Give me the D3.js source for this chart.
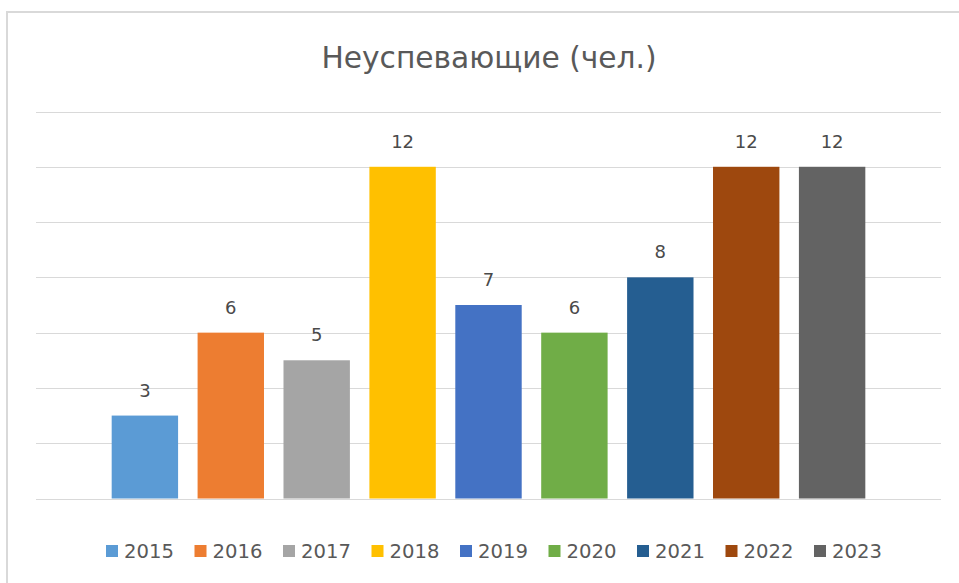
<html>
  <head>
    <style>
      body { margin: 0; background: #fff; }
      text { font-family: "DejaVu Sans", Verdana, sans-serif; }
    </style>
  </head>
  <body>
    <script src="https://d3js.org/d3.v7.min.js"></script>
    <script>
    var width = 959, height = 583;

    // data
    var years = ["2015", "2016", "2017", "2018", "2019", "2020", "2021", "2022", "2023"];
    var values = [3, 6, 5, 12, 7, 6, 8, 12, 12];
    var colors = ["#5B9BD5", "#ED7D31", "#A5A5A5", "#FFC000", "#4472C4", "#70AD47", "#255E91", "#9E480E", "#636363"];
    var yTicks = [0, 2, 4, 6, 8, 10, 12, 14];
    var title = "Неуспевающие (чел.)";

    var plot = {left: 36, right: 941, top: 111.5, bottom: 498.5};

    var svg = d3.select("body")
        .append("svg")
        .attr("width", width)
        .attr("height", height);

    // chart frame (runs off the right and bottom edges)
    svg.append("rect")
        .attr("x", 7).attr("y", 12)
        .attr("width", 980).attr("height", 600)
        .attr("fill", "#fff")
        .attr("stroke", "#d9d9d9")
        .attr("stroke-width", 2);

    var x = d3.scaleBand()
        .domain(years)
        .range([plot.left, plot.right])
        .paddingInner(0.227)
        .paddingOuter(0.881);

    var y = d3.scaleLinear()
        .domain([0, 14])
        .range([plot.bottom, plot.top]);

    var color = d3.scaleOrdinal().domain(years).range(colors);

    // gridlines
    svg.append("g")
      .selectAll("line")
      .data(yTicks)
      .enter().append("line")
        .attr("x1", plot.left).attr("x2", plot.right)
        .attr("y1", function(d) { return Math.round(y(d)) + 0.5; })
        .attr("y2", function(d) { return Math.round(y(d)) + 0.5; })
        .attr("stroke", "#d9d9d9")
        .attr("stroke-width", 1);

    var data = years.map(function(yr, i) { return {year: yr, value: values[i]}; });

    svg.append("g")
      .selectAll("rect")
      .data(data)
      .enter().append("rect")
        .attr("x", function(d) { return x(d.year); })
        .attr("y", function(d) { return y(d.value); })
        .attr("width", x.bandwidth())
        .attr("height", function(d) { return y(0) - y(d.value); })
        .attr("fill", function(d) { return color(d.year); });

    // data labels
    svg.append("g")
      .selectAll("text")
      .data(data)
      .enter().append("text")
        .attr("x", function(d) { return x(d.year) + x.bandwidth() / 2; })
        .attr("y", function(d) { return y(d.value) - 19; })
        .attr("text-anchor", "middle")
        .style("font-size", "18px")
        .attr("fill", "#4a4a4a")
        .text(function(d) { return d.value; });

    // title
    svg.append("text")
        .attr("x", 489)
        .attr("y", 68)
        .attr("text-anchor", "middle")
        .style("font-size", "29.7px")
        .attr("fill", "#595959")
        .text(title);

    // legend
    var legendStep = 88.5, legendX0 = 106, legendY = 545;
    var legend = svg.append("g")
      .selectAll("g")
      .data(years)
      .enter().append("g")
        .attr("transform", function(d, i) { return "translate(" + (legendX0 + i * legendStep) + "," + legendY + ")"; });
    legend.append("rect")
        .attr("width", 12).attr("height", 12)
        .attr("fill", function(d) { return color(d); });
    legend.append("text")
        .attr("x", 18)
        .attr("y", 12.5)
        .style("font-size", "19.6px")
        .attr("fill", "#595959")
        .text(function(d) { return d; });
    </script>
  </body>
</html>
